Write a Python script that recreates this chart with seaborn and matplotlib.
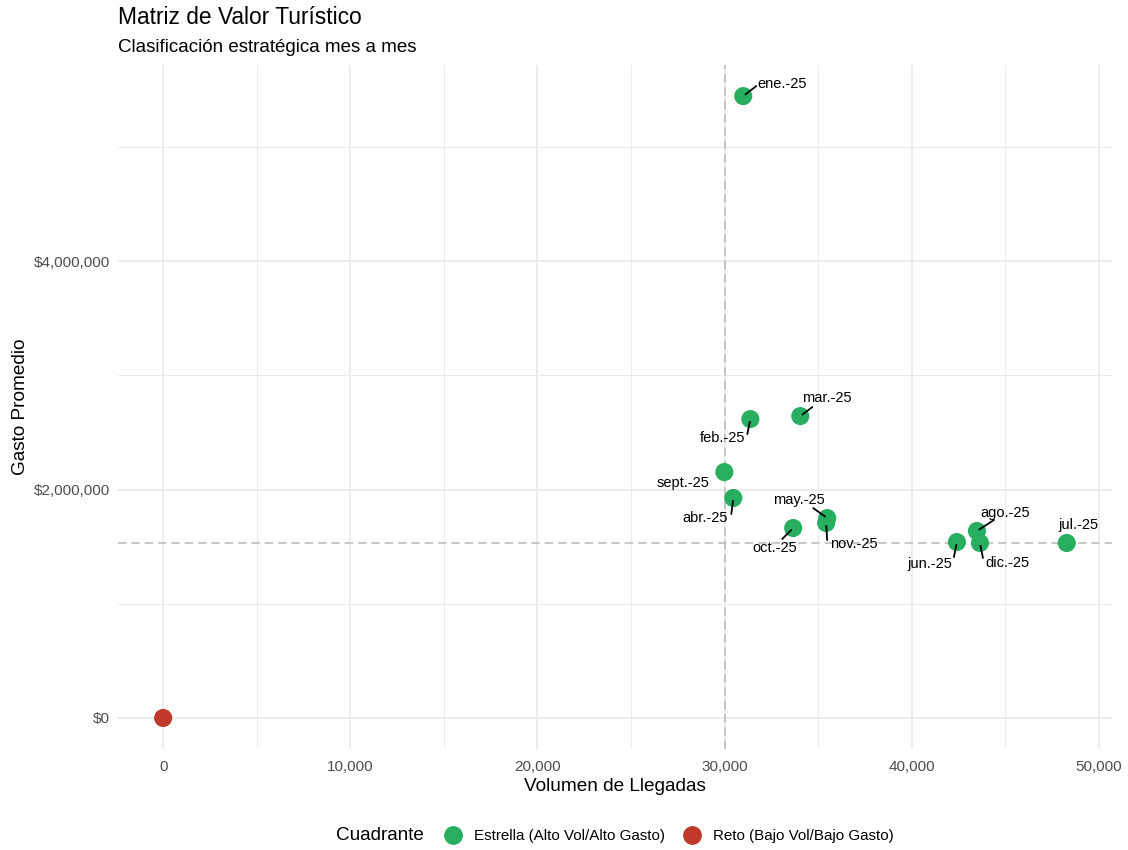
import pandas as pd
import seaborn as sns
from matplotlib import pyplot as plt
from matplotlib.ticker import FuncFormatter, MultipleLocator
from matplotlib.lines import Line2D

# Valores (llegadas y gasto promedio por mes)
meses = ['ene.-25', 'feb.-25', 'mar.-25', 'abr.-25', 'may.-25', 'jun.-25',
         'jul.-25', 'ago.-25', 'sept.-25', 'oct.-25', 'nov.-25', 'dic.-25', '']
llegadas = [31000, 31380, 34050, 30470, 35490, 42420,
            48290, 43490, 29990, 33670, 35430, 43650, 0]
gasto = [5445000, 2617000, 2643000, 1926000, 1750000, 1540000,
         1532000, 1637000, 2153000, 1663000, 1707000, 1532000, 0]
cuadrante = ['Estrella (Alto Vol/Alto Gasto)'] * 12 + ['Reto (Bajo Vol/Bajo Gasto)']

umbral_llegadas = 30000
umbral_gasto = 1535000

colores = {'Estrella (Alto Vol/Alto Gasto)': '#27AE60',
           'Reto (Bajo Vol/Bajo Gasto)': '#C0392B'}

df = pd.DataFrame({'Mes': meses, 'Llegadas': llegadas,
                   'Gasto': gasto, 'Cuadrante': cuadrante})

sns.set_theme(style='white')
plt.rcParams['font.family'] = ['Liberation Sans', 'DejaVu Sans']
plt.rcParams['text.color'] = 'black'
plt.rcParams['axes.labelcolor'] = 'black'

fig = plt.figure(figsize=(11.28, 8.5), dpi=100)
ax = fig.add_axes([0.1046, 0.1188, 0.8812, 0.8047])

# grid estilo theme_minimal
ax.xaxis.set_major_locator(MultipleLocator(10000))
ax.xaxis.set_minor_locator(MultipleLocator(5000))
ax.yaxis.set_major_locator(MultipleLocator(2000000))
ax.yaxis.set_minor_locator(MultipleLocator(1000000))
ax.grid(which='major', color='#EBEBEB', lw=1.3)
ax.grid(which='minor', color='#EBEBEB', lw=0.7)
ax.set_axisbelow(True)

ax.axvline(umbral_llegadas, color='#BEBEBE', ls=(0, (5, 3)), lw=1.2, zorder=1)
ax.axhline(umbral_gasto, color='#BEBEBE', ls=(0, (5, 3)), lw=1.2, zorder=1)

sns.scatterplot(data=df, x='Llegadas', y='Gasto', hue='Cuadrante',
                palette=colores, s=170, edgecolor='none', ax=ax, legend=False,
                zorder=3)

# posicion de etiqueta y extremo del segmento, en px respecto al punto
etiquetas = {'ene.-25': ((39, 12), (13, 10)), 'feb.-25': ((-28, -18.5), (-3, -15)),
             'mar.-25': ((27, 18), (12, 9)), 'abr.-25': ((-28, -20), (-2, -16)),
             'may.-25': ((-28.5, 18), (-14, 10)), 'jun.-25': ((-27.5, -21.5), (-3, -15)),
             'jul.-25': ((12, 18), None), 'ago.-25': ((28.5, 18), (17, 11)),
             'sept.-25': ((-41.5, -11), None), 'oct.-25': ((-18, -19.5), (-11, -11)),
             'nov.-25': ((28, -20.5), (1, -17)), 'dic.-25': ((28, -20), (3, -15))}

px = 0.72
for m, xv, yv in zip(df['Mes'], df['Llegadas'], df['Gasto']):
    if m not in etiquetas:
        continue
    (tx, ty), seg = etiquetas[m]
    ax.annotate(m, (xv, yv), xytext=(tx * px, ty * px), textcoords='offset points',
                ha='center', va='center', fontsize=10.5, color='black', zorder=4)
    if seg is not None:
        ax.annotate('', (xv, yv), xytext=(seg[0] * px, seg[1] * px),
                    textcoords='offset points', zorder=4,
                    arrowprops=dict(arrowstyle='-', color='black', lw=1.3,
                                    shrinkA=0, shrinkB=2))

ax.set_xlim(-2415, 50707)
ax.set_ylim(-272000, 5717000)
ax.xaxis.set_major_formatter(FuncFormatter(lambda v, p: f'{v:,.0f}'))
ax.yaxis.set_major_formatter(FuncFormatter(lambda v, p: f'${v:,.0f}'))
ax.tick_params(axis='both', which='both', length=0, labelsize=11, labelcolor='#4D4D4D')
ax.tick_params(axis='x', pad=8)
ax.tick_params(axis='y', pad=6)
for s in ax.spines.values():
    s.set_visible(False)

ax.set_xlabel('Volumen de Llegadas', fontsize=13.7, labelpad=3)
ax.set_ylabel('Gasto Promedio', fontsize=13.7, labelpad=3)

fig.text(118 / 1128, 1 - 18 / 850, 'Matriz de Valor Turístico', fontsize=16.4, va='center')
fig.text(118 / 1128, 1 - 47 / 850, 'Clasificación estratégica mes a mes', fontsize=13.5, va='center')

# leyenda inferior
handles = [Line2D([], [], marker='o', ls='none', color=c, markersize=12.5) for c in colores.values()]
fig.text(336 / 1128, 1 - 836 / 850, 'Cuadrante', fontsize=13.6, va='center')
fig.legend(handles, list(colores.keys()), ncol=2, frameon=False, fontsize=10.9,
           loc='center left', bbox_to_anchor=(430 / 1128, 1 - 836 / 850),
           handletextpad=0.8, columnspacing=1.2, handlelength=1.2)

fig.savefig('out.png', dpi=100)
